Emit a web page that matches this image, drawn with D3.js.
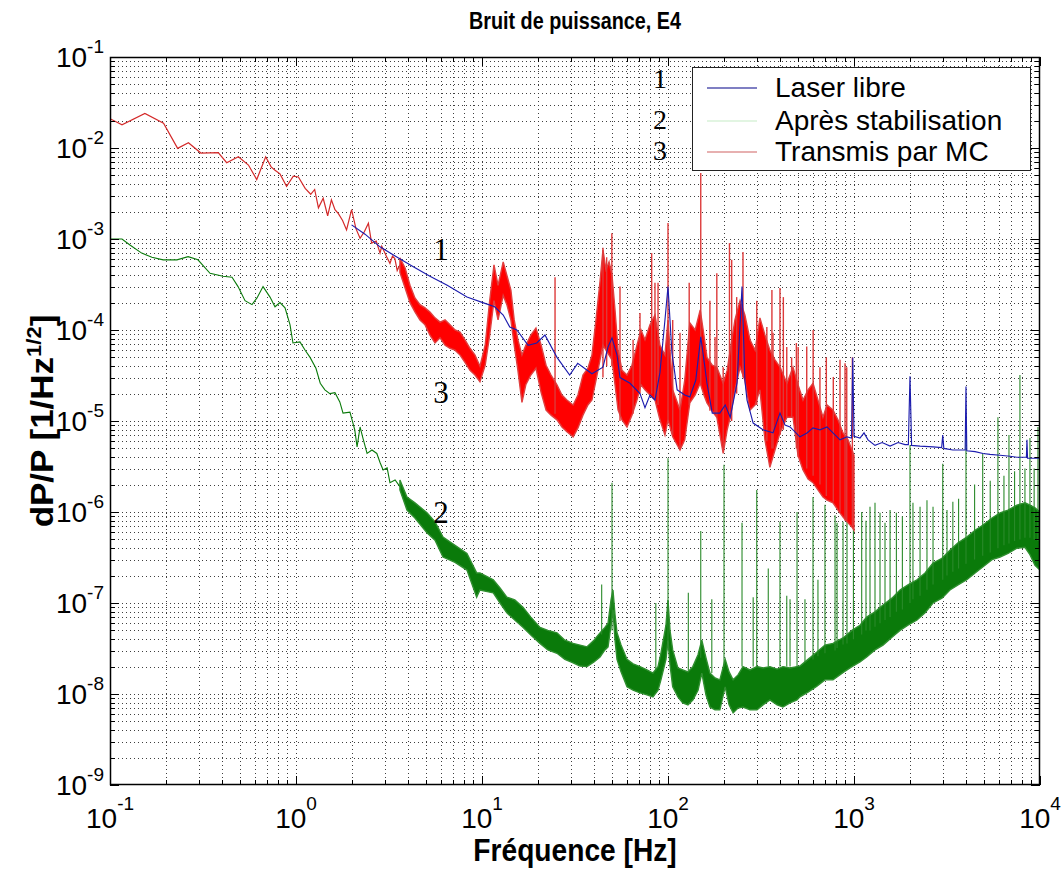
<!DOCTYPE html>
<html><head><meta charset="utf-8">
<script src="https://cdn.jsdelivr.net/npm/d3@7"></script>
<style>body{margin:0;background:#fff}svg{display:block}</style>
</head><body><svg id="c" width="1064" height="869"></svg>
<script>
// ---------- data ----------
const xTickValues = [0.1, 1, 10, 100, 1000, 10000];
const xTickExps = ["-1", "0", "1", "2", "3", "4"];
const yTickValues = [1e-1, 1e-2, 1e-3, 1e-4, 1e-5, 1e-6, 1e-7, 1e-8, 1e-9];
const yTickExps = ["-1", "-2", "-3", "-4", "-5", "-6", "-7", "-8", "-9"];
const seriesNames = ["Laser libre", "Après stabilisation", "Transmis par MC"];

// Transmis par MC : low-frequency trace [Hz, dP/P]
const redLine = [[0.1,0.021],[0.116,0.018],[0.154,0.024],[0.194,0.0187],[0.231,0.0099],[0.264,0.0114],[0.308,0.0088],[0.382,0.0089],[0.424,0.0069],[0.49,0.008],[0.555,0.0065],[0.615,0.0045],[0.687,0.008],[0.735,0.0062],[0.771,0.0057],[0.82,0.0052],[0.89,0.0038],[0.967,0.0049],[1.03,0.0048],[1.12,0.0036],[1.2,0.0031],[1.26,0.0035],[1.32,0.0022],[1.40,0.0028],[1.48,0.0018],[1.55,0.0027],[1.62,0.0021],[1.69,0.0019],[1.78,0.0016],[1.87,0.00126],[1.99,0.0021],[2.1,0.0013],[2.21,0.00102],[2.33,0.0012],[2.45,0.00149],[2.55,0.0009],[2.7,0.00095],[2.83,0.0007],[2.89,0.00083],[3.07,0.00064],[3.2,0.00054],[3.3,0.00065],[3.4,0.00061],[3.5,0.00045],[3.62,0.00052]];
// Transmis par MC : dense noise envelope [Hz, low, high]
const redBand = [[3.62,4.3e-4,6.2e-4],[3.86,2.9e-4,4.8e-4],[4.10,2.0e-4,3.1e-4],[4.36,1.58e-4,2.25e-4],[4.64,1.29e-4,1.9e-4],[4.94,1.14e-4,1.75e-4],[5.25,8.8e-5,1.58e-4],[5.59,7.2e-5,1.36e-4],[5.95,8.2e-5,1.22e-4],[6.33,6.8e-5,1.29e-4],[6.73,6.3e-5,1.14e-4],[7.16,6.0e-5,1.0e-4],[7.62,5.3e-5,9.5e-5],[8.1,4.4e-5,7.8e-5],[8.62,3.6e-5,6.3e-5],[9.17,3.2e-5,5.3e-5],[9.75,2.7e-5,4.0e-5],[10.4,4.1e-5,6.8e-5],[11.0,8.8e-5,2.1e-4],[11.6,2.1e-4,5.2e-4],[12.2,1.29e-4,3.1e-4],[13.0,2.4e-4,5.6e-4],[13.6,1.9e-4,4.0e-4],[14.3,1.29e-4,2.75e-4],[14.9,6.8e-5,1.29e-4],[15.6,3.6e-5,7.8e-5],[16.4,1.6e-5,5.3e-5],[17.2,2.5e-5,6.8e-5],[18.3,3.2e-5,8.8e-5],[19.5,3.8e-5,1.05e-4],[20.8,2.05e-5,6.8e-5],[22.1,1.32e-5,4.1e-5],[23.5,1.16e-5,3.2e-5],[25.3,1.03e-5,2.5e-5],[26.9,8.6e-6,1.93e-5],[28.6,7.6e-6,1.7e-5],[30.9,6.7e-6,1.5e-5],[32.8,8.4e-6,1.93e-5],[34.9,1.16e-5,3.2e-5],[37.1,1.5e-5,3.8e-5],[39.0,1.7e-5,5.3e-5],[41.0,2.8e-5,1.29e-4],[43.1,4.7e-5,3.4e-4],[44.7,6.8e-5,7.6e-4],[46.4,6.0e-5,4.6e-4],[48.2,5.3e-5,5.6e-4],[50.0,4.7e-5,4.0e-4],[51.9,2.5e-5,1.66e-4],[53.9,1.32e-5,6.0e-5],[56.6,1.03e-5,3.6e-5],[60.2,8.6e-6,3.2e-5],[64.0,1.16e-5,4.1e-5],[68.1,1.7e-5,6.8e-5],[71.6,2.5e-5,1.0e-4],[75.2,2.2e-5,7.8e-5],[80.0,1.93e-5,1.14e-4],[85.1,1.7e-5,1.46e-4],[90.5,1.03e-5,6.8e-5],[96.3,7.0e-6,5.3e-5],[100,1.03e-5,1.29e-4],[106,6.7e-6,2.2e-5],[116,4.8e-6,1.32e-5],[123,6.2e-6,2.8e-5],[131,1.58e-5,1.2e-4],[140,1.93e-5,1.0e-4],[149,2.6e-5,1.66e-4],[156,1.93e-5,8.8e-5],[162,1.58e-5,5.0e-5],[173,1.28e-5,4.1e-5],[183,1.1e-5,3.9e-5],[198,4.4e-6,2.6e-5],[208,8.0e-6,3.6e-5],[216,1.1e-5,6.0e-5],[229,2.2e-5,1.29e-4],[244,3.9e-5,2.1e-4],[259,2.8e-5,1.46e-4],[276,1.32e-5,7.8e-5],[294,1.5e-5,6.0e-5],[312,2.2e-5,1.36e-4],[332,6.2e-6,8.8e-5],[353,3.1e-6,6.0e-5],[376,4.8e-6,4.7e-5],[400,7.4e-6,3.9e-5],[436,1.1e-5,2.6e-5],[470,1.1e-5,3.9e-5],[500,4.2e-6,2.5e-5],[532,2.9e-6,1.7e-5],[566,2.3e-6,2.2e-5],[602,2.1e-6,2.6e-5],[640,1.75e-6,1.7e-5],[681,1.46e-6,1.1e-5],[716,1.35e-6,1.5e-5],[771,1.26e-6,1.32e-5],[820,1.05e-6,1.03e-5],[873,8.8e-7,7.4e-6],[929,7.6e-7,6.2e-6],[976,6.8e-7,4.8e-6],[1000,6.3e-7,4.2e-6]];
// Transmis par MC : line peaks [Hz, base, top]
const redSpikes = [[24.7,1.2e-5,3.8e-4],[44.7,3.0e-5,8.0e-4],[46.8,4.0e-5,6.3e-4],[49.9,4.0e-5,1.16e-3],[55.2,1.0e-5,3.0e-4],[64.9,1.2e-5,7.8e-5],[70.7,2.0e-5,1.54e-4],[81.7,2.0e-5,7.0e-4],[85.1,1.7e-5,3.3e-4],[88.4,1.5e-5,3.3e-4],[100,1.0e-5,1.5e-3],[106,7.0e-6,1.29e-4],[116,5.0e-6,9.3e-5],[130,1.5e-5,3.3e-4],[150,2.5e-5,5.3e-3],[168,1.3e-5,2.1e-4],[179,1.2e-5,8.4e-5],[183,1.1e-5,4.2e-4],[198,5.0e-6,3.9e-5],[214,1.0e-5,9.0e-4],[220,1.0e-5,5.9e-4],[234,2.0e-5,2.3e-4],[253,3.0e-5,7.2e-4],[300,1.5e-5,2.1e-4],[340,6.0e-6,1.08e-4],[362,5.0e-6,2.75e-4],[367,5.0e-6,9.3e-5],[400,7.0e-6,2.9e-4],[417,8.0e-6,2.3e-4],[435,1.1e-5,6.5e-5],[462,1.1e-5,5.0e-5],[490,5.0e-6,7.2e-5],[501,4.0e-6,6.5e-5],[557,3.0e-6,6.6e-5],[603,2.5e-6,1.0e-4],[656,2.0e-6,3.9e-5],[710,1.5e-6,5.0e-5],[774,1.3e-6,3.05e-5],[841,1.0e-6,4.7e-5],[895,8.0e-7,4.3e-5],[914,8.0e-7,3.9e-5],[980,7.0e-7,5.0e-5]];

// Laser libre [Hz, dP/P]
const blueLine = [[1.99,1.43e-3],[2.35,1.13e-3],[2.83,8.2e-4],[3.41,6.5e-4],[4.25,5.0e-4],[5.25,3.9e-4],[6.5,3.1e-4],[8.3,2.3e-4],[10.1,2.0e-4],[11.7,1.8e-4],[13.0,1.46e-4],[14.1,1.08e-4],[15.4,1.0e-4],[17.7,6.8e-5],[19.7,7.2e-5],[21.8,8.8e-5],[25.3,5.0e-5],[29.6,3.2e-5],[32.7,4.3e-5],[39.0,3.3e-5],[44.7,3.9e-5],[47.6,6.5e-5],[50.0,8.2e-5],[53.2,5.3e-5],[55.2,3.0e-5],[62.5,2.6e-5],[70.7,2.0e-5],[75.2,1.4e-5],[80.0,1.93e-5],[85.1,1.7e-5],[90.5,3.4e-5],[96.3,1.29e-4],[100,3.0e-4],[105,5.6e-5],[112,2.2e-5],[123,1.93e-5],[131,1.84e-5],[141,2.8e-5],[150,8.4e-5],[156,4.7e-5],[162,2.6e-5],[173,1.22e-5],[190,1.22e-5],[203,1.5e-5],[216,1.1e-5],[235,2.6e-5],[250,3.0e-4],[259,2.8e-5],[266,1.7e-5],[287,9.5e-6],[324,8.0e-6],[367,7.4e-6],[400,1.22e-5],[426,9.0e-6],[453,8.6e-6],[512,6.7e-6],[559,7.4e-6],[602,8.4e-6],[656,8.0e-6],[716,8.6e-6],[771,7.4e-6],[841,6.2e-6],[917,6.7e-6],[970,6.5e-6],[985,5.0e-5],[1000,6.8e-6],[1077,6.5e-6],[1132,7.4e-6],[1189,6.2e-6],[1297,5.4e-6],[1416,5.8e-6],[1563,5.3e-6],[1726,5.8e-6],[1880,5.5e-6],[1960,5.5e-6],[2000,3.1e-5],[2040,5.4e-6],[2265,5.3e-6],[2660,5.2e-6],[2960,5.1e-6],[3000,7.0e-6],[3040,5.0e-6],[3400,4.8e-6],[3715,4.8e-6],[3960,4.8e-6],[4000,2.4e-5],[4040,4.7e-6],[4477,4.6e-6],[4940,4.4e-6],[5385,4.3e-6],[6100,4.2e-6],[6900,4.1e-6],[7510,4.0e-6],[8450,4.0e-6],[8510,6.2e-6],[8570,3.9e-6],[9400,3.9e-6],[10000,3.9e-6]];

// Après stabilisation : low-frequency trace [Hz, dP/P]
const greenLine = [[0.1,1.0e-3],[0.116,1.0e-3],[0.128,8.6e-4],[0.148,7.0e-4],[0.168,6.3e-4],[0.193,5.9e-4],[0.229,5.9e-4],[0.263,6.4e-4],[0.297,5.9e-4],[0.345,4.2e-4],[0.405,3.9e-4],[0.453,3.8e-4],[0.488,3.0e-4],[0.532,2.1e-4],[0.58,1.9e-4],[0.617,2.25e-4],[0.665,3.0e-4],[0.725,2.3e-4],[0.771,1.8e-4],[0.82,2.0e-4],[0.873,1.75e-4],[0.929,1.14e-4],[0.963,7.2e-5],[1.05,7.4e-5],[1.12,6.0e-5],[1.19,5.0e-5],[1.28,3.8e-5],[1.35,2.6e-5],[1.43,2.2e-5],[1.52,2.0e-5],[1.62,2.05e-5],[1.72,1.62e-5],[1.79,1.22e-5],[1.95,1.25e-5],[2.07,8.0e-6],[2.13,5.2e-6],[2.21,8.6e-6],[2.29,6.5e-6],[2.41,4.4e-6],[2.56,4.8e-6],[2.72,4.4e-6],[2.83,3.5e-6],[2.94,2.9e-6],[3.09,3.05e-6],[3.2,2.1e-6],[3.41,2.25e-6],[3.62,1.9e-6]];
// Après stabilisation : dense noise envelope [Hz, low, high]
const greenBand = [[3.62,1.75e-6,2.25e-6],[3.95,1.05e-6,1.46e-6],[4.36,8.6e-7,1.26e-6],[5.06,5.9e-7,9.8e-7],[5.59,4.9e-7,7.8e-7],[6.17,3.2e-7,5.3e-7],[7.16,2.8e-7,4.3e-7],[8.3,2.3e-7,3.5e-7],[9.36,1.16e-7,2.14e-7],[9.75,1.39e-7,2.14e-7],[11.5,1.29e-7,1.8e-7],[12.5,1.0e-7,1.46e-7],[13.6,7.8e-8,1.16e-7],[15.0,6.5e-8,1.08e-7],[16.6,5.4e-8,9.0e-8],[18.3,4.45e-8,7.0e-8],[20.5,3.6e-8,5.4e-8],[22.6,3.05e-8,5.0e-8],[25.3,2.8e-8,4.7e-8],[27.9,2.4e-8,3.9e-8],[30.9,2.2e-8,3.6e-8],[33.6,2.03e-8,3.45e-8],[36.7,2.0e-8,3.3e-8],[40.0,2.25e-8,3.9e-8],[43.1,2.55e-8,4.7e-8],[45.8,3.05e-8,5.4e-8],[47.6,3.3e-8,6.0e-8],[49.4,5.7e-8,1.08e-7],[50.6,8.4e-8,1.39e-7],[51.9,3.9e-8,7.4e-8],[53.2,2.4e-8,4.7e-8],[55.9,1.75e-8,3.45e-8],[60.2,1.2e-8,2.4e-8],[64.9,1.1e-8,2.14e-8],[70.7,1.03e-8,2.0e-8],[77.1,9.8e-9,1.84e-8],[83,9.3e-9,1.7e-8],[88.4,1.1e-8,2.0e-8],[91.6,1.43e-8,2.8e-8],[97.5,2.4e-8,5.7e-8],[100,3.9e-8,1.08e-7],[102.5,2.1e-8,5.0e-8],[106,1.2e-8,3.05e-8],[113,9.3e-9,1.93e-8],[120,8.0e-9,1.84e-8],[128,7.6e-9,1.75e-8],[136,8.6e-9,2.0e-8],[145,1.1e-8,2.7e-8],[152,1.7e-8,3.9e-8],[160,9.8e-9,2.5e-8],[168,7.2e-9,1.7e-8],[179,6.7e-9,1.5e-8],[190,6.7e-9,1.43e-8],[203,1.2e-8,2.4e-8],[213,7.6e-9,1.75e-8],[224,6.2e-9,1.43e-8],[238,7.0e-9,1.62e-8],[253,7.2e-9,2.0e-8],[276,6.7e-9,1.84e-8],[301,6.7e-9,2.0e-8],[324,7.6e-9,1.93e-8],[353,8.6e-9,2.0e-8],[386,7.6e-9,1.88e-8],[415,7.2e-9,2.0e-8],[453,8.0e-9,1.93e-8],[494,8.6e-9,2.0e-8],[512,9.3e-9,2.03e-8],[566,1.05e-8,2.4e-8],[632,1.22e-8,2.9e-8],[698,1.43e-8,3.45e-8],[771,1.43e-8,3.6e-8],[883,1.75e-8,4.2e-8],[975,2.0e-8,5.0e-8],[1077,2.25e-8,5.7e-8],[1170,2.55e-8,7.0e-8],[1297,3.05e-8,8.0e-8],[1432,3.45e-8,9.5e-8],[1600,4.2e-8,1.13e-7],[1767,5.0e-8,1.39e-7],[1950,5.7e-8,1.58e-7],[2182,6.5e-8,1.8e-7],[2410,7.8e-8,2.14e-7],[2660,1.0e-7,2.75e-7],[2970,1.13e-7,3.1e-7],[3280,1.39e-7,3.8e-7],[3625,1.58e-7,4.6e-7],[4040,1.8e-7,5.3e-7],[4477,2.14e-7,6.3e-7],[4940,2.5e-7,7.2e-7],[5520,3.0e-7,8.6e-7],[6100,3.2e-7,9.8e-7],[6730,3.5e-7,1.05e-6],[7510,4.0e-7,1.19e-6],[8300,4.1e-7,1.26e-6],[8830,3.4e-7,1.19e-6],[9400,2.6e-7,1.11e-6],[10000,2.3e-7,1.0e-6]];
// Après stabilisation : line peaks [Hz, base, top]
const greenSpikes = [[44,4.5e-8,1.6e-7],[50,5.0e-8,2.1e-6],[86,1.8e-8,1.0e-7],[100,3.0e-8,3.9e-6],[128.6,1.8e-8,1.3e-7],[150,2.5e-8,6.2e-7],[172,1.7e-8,1.1e-7],[200,2.0e-8,3.3e-6],[250,2.0e-8,7.6e-7],[287,2.0e-8,1.16e-7],[300,2.0e-8,1.75e-6],[346,2.0e-8,2.4e-7],[400,2.0e-8,7.8e-7],[435,2.0e-8,1.2e-7],[453,2.0e-8,1.1e-7],[494,2.0e-8,1.0e-6],[545,2.2e-8,1.1e-7],[602,2.4e-8,1.46e-6],[640,2.6e-8,1.8e-7],[698,2.8e-8,1.2e-6],[791,3.0e-8,9.2e-7],[811,3.2e-8,7.6e-7],[873,3.5e-8,7.8e-7],[917,3.6e-8,8.8e-7],[993,4.0e-8,1.05e-6],[1100,4.5e-8,1.0e-6],[1160,5.0e-8,8.0e-7],[1219,5.0e-8,1.14e-6],[1297,5.5e-8,1.26e-6],[1380,6.0e-8,9.8e-7],[1468,6.5e-8,7.6e-7],[1563,7.0e-8,1.05e-6],[1690,8.0e-8,9.8e-7],[1820,8.5e-8,9.0e-7],[2000,1.0e-7,5.4e-6],[2075,1.1e-7,1.26e-6],[2265,1.2e-7,1.14e-6],[2468,1.4e-7,1.35e-6],[2660,1.6e-7,1.14e-6],[3000,1.8e-7,3.4e-6],[3162,2.0e-7,1.05e-6],[3400,2.2e-7,1.3e-6],[3650,2.4e-7,1.4e-6],[4000,2.7e-7,7.0e-6],[4450,3.0e-7,2.0e-6],[4920,3.3e-7,4.4e-6],[5400,3.6e-7,2.2e-6],[5940,4.0e-7,1.1e-5],[6400,4.3e-7,2.5e-6],[6810,4.5e-7,7.0e-6],[7300,4.8e-7,2.8e-6],[7800,5.0e-7,3.2e-5],[8300,5.2e-7,3.0e-6],[8830,5.2e-7,6.5e-6],[9300,5.0e-7,3.0e-6],[9750,4.8e-7,8.6e-6]];

// ---------- drawing ----------
const L = 110, R = 1040, T = 57, B = 785;
const svg = d3.select('#c');
const x = d3.scaleLog().domain([0.1, 1e4]).range([L, R]);
const y = d3.scaleLog().domain([1e-9, 1e-1]).range([B, T]);
const sans = "Arial, 'Liberation Sans', Helvetica, sans-serif";
const serif = "'Times New Roman', 'Liberation Serif', serif";
const BLUE = "#1c1cae", GREEN = "#0a7a0a", RED = "#ff0000";

function logSteps(d0, d1) {
  const out = [];
  for (let e = Math.round(Math.log10(d0)); e < Math.round(Math.log10(d1)); e++)
    for (let m = 1; m < 10; m++) out.push({v: m * Math.pow(10, e), major: m === 1});
  out.push({v: d1, major: true});
  return out;
}
const xs = logSteps(0.1, 1e4), ys = logSteps(1e-9, 1e-1);
const px = v => Math.round(x(v)) + 0.5, py = v => Math.round(y(v)) + 0.5;

// grid
const grid = svg.append('g').attr('stroke', '#000').attr('stroke-width', 1)
  .attr('stroke-dasharray', '1,3').attr('opacity', 0.75);
grid.selectAll('.gx').data(xs.slice(1, -1)).join('line')
  .attr('x1', d => px(d.v)).attr('x2', d => px(d.v)).attr('y1', T).attr('y2', B);
grid.selectAll('.gy').data(ys.slice(1, -1)).join('line')
  .attr('y1', d => py(d.v)).attr('y2', d => py(d.v)).attr('x1', L).attr('x2', R);

svg.append('clipPath').attr('id', 'clip').append('rect')
  .attr('x', L).attr('y', T).attr('width', R - L).attr('height', B - T);
const plot = svg.append('g').attr('clip-path', 'url(#clip)');

const line = d3.line().x(d => x(d[0])).y(d => y(d[1]));
const band = d3.area().x(d => x(d[0])).y0(d => y(d[1])).y1(d => y(d[2]));

// green
plot.append('path').datum(greenLine).attr('d', line).attr('fill', 'none')
  .attr('stroke', GREEN).attr('stroke-width', 1.1);
plot.append('path').datum(greenBand).attr('d', band).attr('fill', GREEN)
  .attr('stroke', '#2f8f2f').attr('stroke-width', 1.4).attr('stroke-linejoin', 'miter');
plot.append('g').selectAll('line').data(greenSpikes).join('line')
  .attr('x1', d => x(d[0])).attr('x2', d => x(d[0]))
  .attr('y1', d => y(d[1])).attr('y2', d => y(d[2]))
  .attr('stroke', '#2a8a2a').attr('stroke-width', 1.1);

// red
plot.append('path').datum(redLine).attr('d', line).attr('fill', 'none')
  .attr('stroke', '#d42a2a').attr('stroke-width', 1.2);
plot.append('path').datum(redBand).attr('d', band).attr('fill', RED)
  .attr('stroke', '#e04040').attr('stroke-width', 1.4).attr('stroke-linejoin', 'miter');
plot.append('g').selectAll('line').data(redSpikes).join('line')
  .attr('x1', d => x(d[0])).attr('x2', d => x(d[0]))
  .attr('y1', d => y(d[1])).attr('y2', d => y(d[2]))
  .attr('stroke', '#dd3a3a').attr('stroke-width', 1.4);

// blue
plot.append('path').datum(blueLine).attr('d', line).attr('fill', 'none')
  .attr('stroke', BLUE).attr('stroke-width', 1.15);

// frame + ticks
svg.append('rect').attr('x', L + 0.5).attr('y', T + 0.5).attr('width', R - L - 1).attr('height', B - T - 1)
  .attr('fill', 'none').attr('stroke', '#000').attr('stroke-width', 1.5);
const tk = svg.append('g').attr('stroke', '#000').attr('stroke-width', 1);
xs.forEach(d => {
  const l = d.major ? 9 : 5;
  tk.append('line').attr('x1', px(d.v)).attr('x2', px(d.v)).attr('y1', B).attr('y2', B - l);
  tk.append('line').attr('x1', px(d.v)).attr('x2', px(d.v)).attr('y1', T).attr('y2', T + l);
});
ys.forEach(d => {
  const l = d.major ? 9 : 5;
  tk.append('line').attr('y1', py(d.v)).attr('y2', py(d.v)).attr('x1', L).attr('x2', L + l);
  tk.append('line').attr('y1', py(d.v)).attr('y2', py(d.v)).attr('x1', R).attr('x2', R - l);
});

// tick labels
xTickValues.forEach((v, i) => {
  const t = svg.append('text').attr('x', x(v)).attr('y', 828).attr('text-anchor', 'middle')
    .attr('font-family', sans).attr('font-size', 28).attr('fill', '#000');
  t.append('tspan').text('10');
  t.append('tspan').attr('dy', -18).attr('font-size', 19).text(xTickExps[i]);
});
yTickValues.forEach((v, i) => {
  const t = svg.append('text').attr('x', 104).attr('y', y(v) + 10).attr('text-anchor', 'end')
    .attr('font-family', sans).attr('font-size', 28).attr('fill', '#000');
  t.append('tspan').text('10');
  t.append('tspan').attr('dy', -14).attr('font-size', 19).text(yTickExps[i]);
});

// titles
svg.append('text').attr('transform', 'translate(575,29) scale(0.86,1)').attr('text-anchor', 'middle')
  .attr('font-family', sans).attr('font-weight', 'bold').attr('font-size', 23)
  .text('Bruit de puissance, E4');
svg.append('text').attr('transform', 'translate(575,861) scale(0.88,1)').attr('text-anchor', 'middle')
  .attr('font-family', sans).attr('font-weight', 'bold').attr('font-size', 32)
  .text('Fréquence [Hz]');
const yl = svg.append('text').attr('transform', 'translate(53,421) rotate(-90) scale(1,0.88)')
  .attr('text-anchor', 'middle').attr('font-family', sans).attr('font-weight', 'bold').attr('font-size', 35);
yl.append('tspan').text('dP/P [1/Hz');
yl.append('tspan').attr('dy', -14).attr('font-size', 22).text('1/2');
yl.append('tspan').attr('dy', 14).text(']');

// legend
const lg = svg.append('g');
lg.append('rect').attr('x', 692.5).attr('y', 67.5).attr('width', 338).attr('height', 103)
  .attr('fill', '#fff').attr('stroke', '#222').attr('stroke-width', 1);
const legCols = ['#000088', '#c6ecc6', '#d06262'];
const legY = [88, 121, 152];
seriesNames.forEach((n, i) => {
  lg.append('line').attr('x1', 707).attr('x2', 757).attr('y1', legY[i]).attr('y2', legY[i])
    .attr('stroke', legCols[i]).attr('stroke-width', 1.2);
  lg.append('text').attr('x', 775).attr('y', legY[i] + 9).attr('font-family', sans)
    .attr('font-size', 28).attr('fill', '#000').text(n);
});

// curve numbers
const numLabels = [["1", 660, 88, 28], ["2", 660, 129, 28], ["3", 660, 160, 28],
                   ["1", 441, 260, 31], ["3", 441, 403, 31], ["2", 441, 523, 31]];
numLabels.forEach(d => svg.append('text').attr('x', d[1]).attr('y', d[2]).attr('text-anchor', 'middle')
  .attr('font-family', serif).attr('font-size', d[3]).attr('fill', '#000').text(d[0]));
</script></body></html>
